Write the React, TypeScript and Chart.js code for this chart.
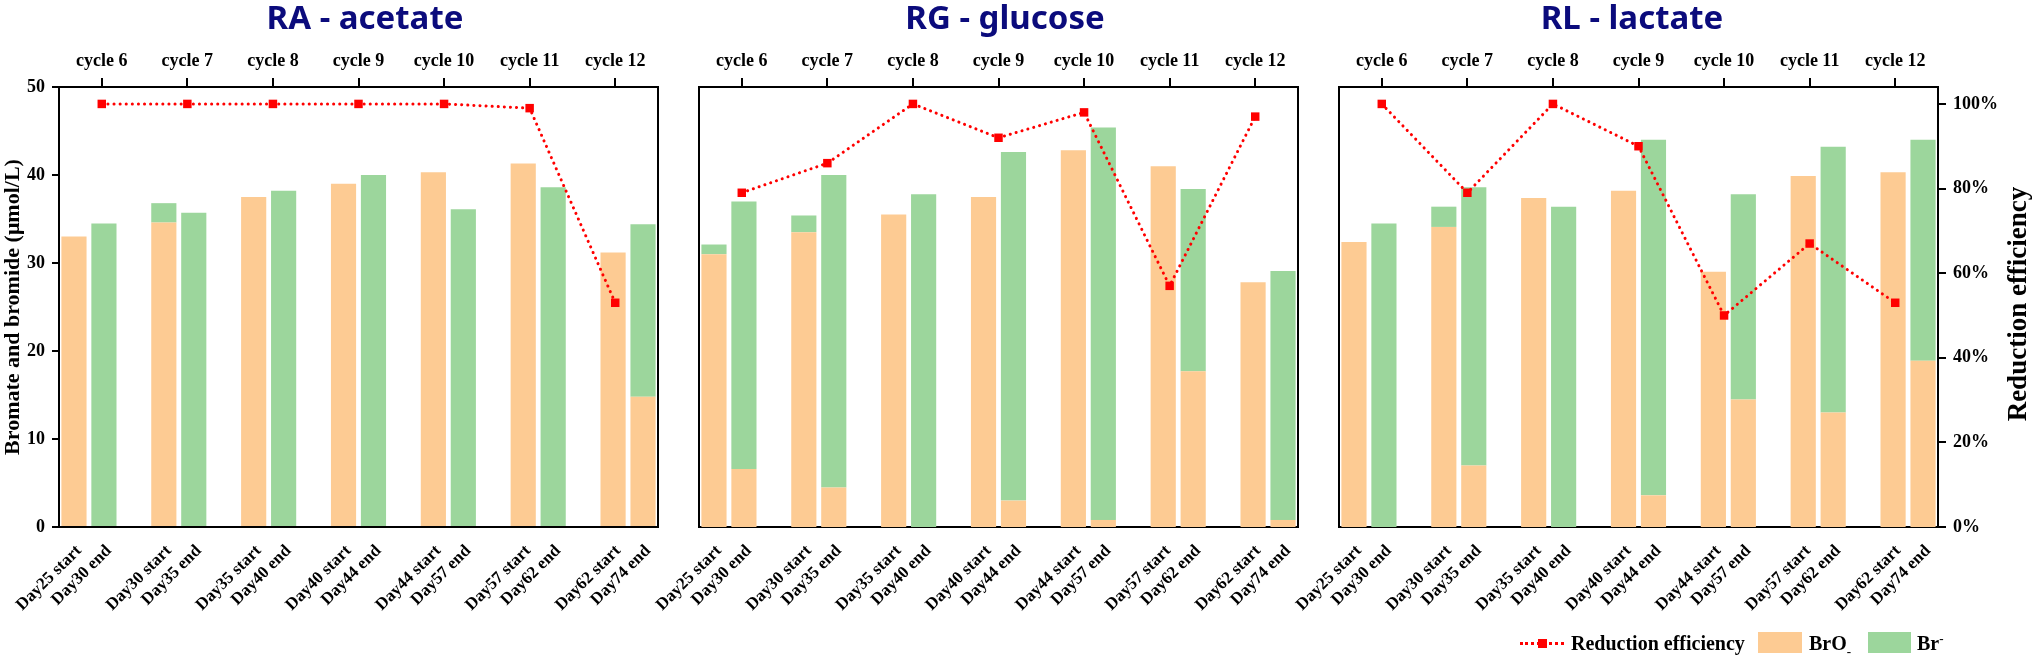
import { useEffect, useRef } from "react";
import { Chart, registerables } from "chart.js";
import type { ChartConfiguration } from "chart.js";

Chart.register(...registerables);

// bottom axis: start / end sample of each cycle
const DAY_LABELS = [
  "Day25 start", "Day30 end",
  "Day30 start", "Day35 end",
  "Day35 start", "Day40 end",
  "Day40 start", "Day44 end",
  "Day44 start", "Day57 end",
  "Day57 start", "Day62 end",
  "Day62 start", "Day74 end",
];

// top axis
const CYCLES = ["cycle 6", "cycle 7", "cycle 8", "cycle 9", "cycle 10", "cycle 11", "cycle 12"];

// right axis ticks (%)
const EFF_TICKS = [0, 20, 40, 60, 80, 100];

// µmol/L, same order as DAY_LABELS
const RA_BRO3 = [33.0, 0, 34.6, 0, 37.5, 0, 39.0, 0, 40.3, 0, 41.3, 0, 31.2, 14.8];
const RA_BR = [0, 34.5, 2.2, 35.7, 0, 38.2, 0, 40.0, 0, 36.1, 0, 38.6, 0, 19.6];
const RA_EFF = [100, 100, 100, 100, 100, 99, 53];

const RG_BRO3 = [31.0, 6.6, 33.5, 4.5, 35.5, 0, 37.5, 3.0, 42.8, 0.8, 41.0, 17.7, 27.8, 0.8];
const RG_BR = [1.1, 30.4, 1.9, 35.5, 0, 37.8, 0, 39.6, 0, 44.6, 0, 20.7, 0, 28.3];
const RG_EFF = [79, 86, 100, 92, 98, 57, 97];

const RL_BRO3 = [32.4, 0, 34.1, 7.0, 37.4, 0, 38.2, 3.6, 29.0, 14.5, 39.9, 13.0, 40.3, 18.9];
const RL_BR = [0, 34.5, 2.3, 31.6, 0, 36.4, 0, 40.4, 0, 23.3, 0, 30.2, 0, 25.1];
const RL_EFF = [100, 79, 100, 90, 50, 67, 53];

const SERIF = '"Liberation Serif", "Times New Roman", serif';
const ORANGE = "#fdcb93";
const GREEN = "#9cd69c";
const RED = "#ff0000";
const NAVY = "#0b0b7c";

// put an empty category between the pairs
function withGaps<T>(vals: T[], gap: T): T[] {
  const out: T[] = [];
  vals.forEach((v, i) => {
    out.push(v);
    if (i % 2 === 1 && i < vals.length - 1) out.push(gap);
  });
  return out;
}

interface PanelProps {
  brO3: number[];
  br: number[];
  eff: number[];
  left: number;
  width: number;
  yWidth: number;
  y2Width: number;
  showLeft: boolean;
  showRight: boolean;
}

function Panel({ brO3, br, eff, left, width, yWidth, y2Width, showLeft, showRight }: PanelProps) {
  const canvasRef = useRef<HTMLCanvasElement | null>(null);

  useEffect(() => {
    if (!canvasRef.current) return;
    const font = { family: SERIF, weight: "bold" as const, size: 18 };
    const dayFont = { family: SERIF, weight: "bold" as const, size: 17 };
    const toBar = (arr: number[]) => withGaps<number | null>(arr, null).map((v) => (v ? v : null));

    const barCommon = {
      type: "bar" as const,
      xAxisID: "x",
      yAxisID: "y",
      stack: "s",
      grouped: false,
      barPercentage: 0.84,
      categoryPercentage: 1,
      borderWidth: 0,
      order: 1,
    };

    const config: ChartConfiguration<"bar" | "line"> = {
      type: "bar",
      data: {
        labels: withGaps(DAY_LABELS, ""),
        datasets: [
          {
            type: "line",
            label: "Reduction efficiency",
            data: eff,
            xAxisID: "x2",
            yAxisID: "y2",
            borderColor: RED,
            borderWidth: 3,
            borderDash: [0.1, 6],
            borderCapStyle: "round",
            pointStyle: "rect",
            pointRadius: 6,
            pointHoverRadius: 6,
            pointBackgroundColor: RED,
            pointBorderWidth: 0,
            tension: 0,
            fill: false,
            order: 0,
          },
          { ...barCommon, label: "BrO3-", data: toBar(brO3), backgroundColor: ORANGE },
          { ...barCommon, label: "Br-", data: toBar(br), backgroundColor: GREEN },
        ] as any,
      },
      options: {
        responsive: true,
        maintainAspectRatio: false,
        animation: false,
        layout: { padding: 0 },
        plugins: {
          legend: { display: false },
          tooltip: { enabled: false },
        },
        scales: {
          x: {
            type: "category",
            position: "bottom",
            stacked: true,
            offset: true,
            grid: { display: false, drawTicks: false },
            border: { display: true, color: "#000", width: 2 },
            ticks: {
              autoSkip: false,
              minRotation: 45,
              maxRotation: 45,
              color: "#000",
              font: dayFont,
              padding: 14,
              labelOffset: 5,
            },
            afterFit: (s: any) => {
              s.height = 659 - 527;
              s.paddingLeft = 0;
              s.paddingRight = 0;
            },
          },
          x2: {
            type: "category",
            labels: CYCLES,
            position: "top",
            offset: true,
            grid: {
              display: true,
              offset: false,
              drawOnChartArea: false,
              drawTicks: true,
              tickLength: 9,
              color: "#000",
              lineWidth: 2,
            },
            border: { display: true, color: "#000", width: 2 },
            ticks: { autoSkip: false, maxRotation: 0, color: "#000", font, padding: 6 },
            afterFit: (s: any) => {
              s.height = 87;
              s.paddingLeft = 0;
              s.paddingRight = 0;
            },
          },
          y: {
            type: "linear",
            position: "left",
            stacked: true,
            min: 0,
            max: 50,
            ticks: { display: showLeft, stepSize: 10, color: "#000", font, padding: 7 },
            grid: {
              display: showLeft,
              drawOnChartArea: false,
              drawTicks: showLeft,
              tickLength: 7,
              color: "#000",
              lineWidth: 2,
            },
            border: { display: true, color: "#000", width: 2 },
            title: {
              display: showLeft,
              text: "Bromate and bromide (μmol/L)",
              color: "#000",
              font: { family: SERIF, weight: "bold", size: 22 },
              padding: 0,
            },
            afterFit: (s: any) => {
              s.width = yWidth;
              s.paddingTop = 0;
              s.paddingBottom = 0;
            },
          },
          y2: {
            type: "linear",
            position: "right",
            min: 0,
            max: 104,
            afterBuildTicks: (s: any) => {
              s.ticks = EFF_TICKS.map((value) => ({ value }));
            },
            ticks: {
              display: showRight,
              color: "#000",
              font,
              padding: 7,
              callback: (v) => `${v}%`,
            },
            grid: {
              display: showRight,
              drawOnChartArea: false,
              drawTicks: showRight,
              tickLength: 8,
              color: "#000",
              lineWidth: 2,
            },
            border: { display: true, color: "#000", width: 2 },
            afterFit: (s: any) => {
              s.width = y2Width;
              s.paddingTop = 0;
              s.paddingBottom = 0;
            },
          },
        },
      },
    };

    const chart = new Chart(canvasRef.current, config as any);
    return () => {
      chart.destroy();
    };
  }, [brO3, br, eff, yWidth, y2Width, showLeft, showRight]);

  return (
    <div style={{ position: "absolute", left, top: 0, width, height: 659 }}>
      <canvas ref={canvasRef} />
    </div>
  );
}

const titleStyle = (center: number): React.CSSProperties => ({
  position: "absolute",
  left: center - 200,
  width: 400,
  top: 0,
  textAlign: "center",
  fontFamily: '"Noto Sans", "Open Sans", sans-serif',
  fontWeight: 700,
  fontSize: 33,
  lineHeight: "33px",
  color: NAVY,
});

const legendText: React.CSSProperties = {
  position: "absolute",
  top: 631,
  fontFamily: SERIF,
  fontWeight: 700,
  fontSize: 20,
  lineHeight: "24px",
  color: "#000",
  whiteSpace: "nowrap",
};

export default function App() {
  return (
    <div
      style={{
        position: "absolute",
        left: 0,
        top: 0,
        width: 2032,
        height: 659,
        background: "#fff",
        overflow: "hidden",
      }}
    >
      <Panel brO3={RA_BRO3} br={RA_BR} eff={RA_EFF} left={0} width={680} yWidth={59} y2Width={22} showLeft showRight={false} />
      <Panel brO3={RG_BRO3} br={RG_BR} eff={RG_EFF} left={600} width={720} yWidth={99} y2Width={22} showLeft={false} showRight={false} />
      <Panel brO3={RL_BRO3} br={RL_BR} eff={RL_EFF} left={1240} width={792} yWidth={99} y2Width={94} showLeft={false} showRight />

      <div style={titleStyle(365)}>RA - acetate</div>
      <div style={titleStyle(1005)}>RG - glucose</div>
      <div style={titleStyle(1632)}>RL - lactate</div>

      <div
        style={{
          position: "absolute",
          left: 2017 - 160,
          top: 304 - 15,
          width: 320,
          height: 30,
          lineHeight: "30px",
          textAlign: "center",
          transform: "rotate(-90deg)",
          fontFamily: SERIF,
          fontWeight: 700,
          fontSize: 27,
          color: "#000",
          whiteSpace: "nowrap",
        }}
      >
        Reduction efficiency
      </div>

      {/* legend */}
      <div style={{ position: "absolute", left: 1520, top: 642, width: 44, borderTop: `3px dotted ${RED}` }} />
      <div style={{ position: "absolute", left: 1538, top: 639, width: 9, height: 9, background: RED }} />
      <div style={{ ...legendText, left: 1571 }}>Reduction efficiency</div>
      <div style={{ position: "absolute", left: 1758, top: 632, width: 44, height: 21, background: ORANGE }} />
      <div style={{ ...legendText, left: 1809 }}>
        BrO
        <span
          style={{
            display: "inline-flex",
            flexDirection: "column",
            fontSize: 13,
            lineHeight: "11px",
            verticalAlign: "-6px",
          }}
        >
          <span>-</span>
          <span>3</span>
        </span>
      </div>
      <div style={{ position: "absolute", left: 1868, top: 632, width: 43, height: 21, background: GREEN }} />
      <div style={{ ...legendText, left: 1917 }}>
        Br<sup style={{ fontSize: 13, verticalAlign: "7px", lineHeight: 0 }}>-</sup>
      </div>
    </div>
  );
}
